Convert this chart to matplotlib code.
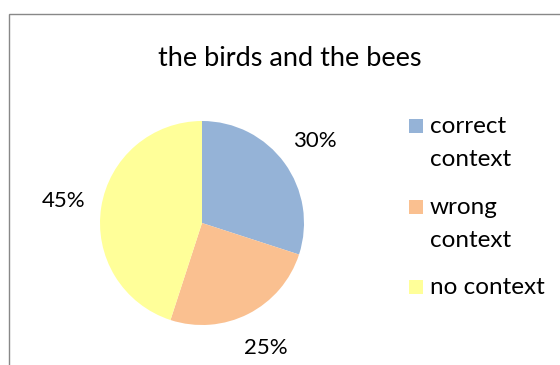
import matplotlib
matplotlib.use("Agg")
import matplotlib.pyplot as plt
from matplotlib.patches import Rectangle

plt.rcParams['font.family'] = ['Lato', 'DejaVu Sans']

title = "the birds and the bees"
categories = ["correct\ncontext", "wrong\ncontext", "no context"]
values = [30, 25, 45]
colors = ["#95B3D7", "#FAC090", "#FFFF99"]

W, H = 560, 365
fig = plt.figure(figsize=(W / 100, H / 100), dpi=100)

def fx(px):
    return px / W

def fy(py):
    return 1 - py / H

# chart border (cut off at right and bottom like the reference)
fig.patches.append(Rectangle((fx(8.5), fy(380)), fx(600), fy(13.5) - fy(380),
                             transform=fig.transFigure, fill=False,
                             edgecolor="#888888", linewidth=1.0))

fig.text(fx(290), fy(59), title, ha="center", va="center", fontsize=19.5, color="#000000")

cx, cy, r = 202, 223, 102
ax = fig.add_axes([fx(cx - r), fy(cy + r), fx(2 * r), fy(cy - r) - fy(cy + r)])
wedges, texts, autotexts = ax.pie(values, colors=colors, startangle=90, counterclock=False,
                                  radius=1, autopct="%d%%", pctdistance=1.37,
                                  wedgeprops=dict(linewidth=0),
                                  textprops=dict(fontsize=16, color="#000000"))
ax.set_xlim(-1, 1)
ax.set_ylim(-1, 1)
ax.set_aspect("equal")
ax.axis("off")

# legend
sq_y = [126, 207, 287]
for w, lab, y in zip(wedges, categories, sq_y):
    fig.patches.append(Rectangle((fx(409), fy(y + 7)), fx(14), fy(y - 7) - fy(y + 7),
                                 transform=fig.transFigure,
                                 facecolor=w.get_facecolor(), edgecolor="none"))
    fig.text(fx(430), fy(y - 10), lab, ha="left", va="top", fontsize=17.5,
             linespacing=1.7, color="#000000")

fig.savefig("out.png", dpi=100, facecolor="white")
